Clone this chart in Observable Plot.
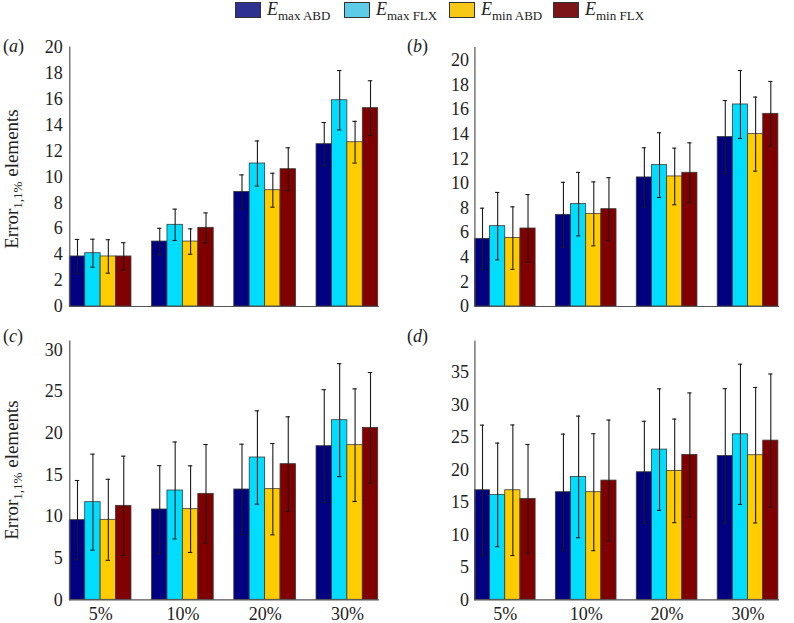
<!DOCTYPE html>
<html>
<head>
<meta charset="utf-8">
<script src="https://cdn.jsdelivr.net/npm/d3@7"></script>
<script src="https://cdn.jsdelivr.net/npm/@observablehq/plot@0.6"></script>
<style>
  body { margin: 0; background: #fff; }
  #root { position: relative; width: 794px; height: 623px; overflow: hidden; background: #fff;
          font-family: "Liberation Serif", "DejaVu Serif", serif; color: #222; }
  .panel { position: absolute; }
  .panel text { font-family: "Liberation Serif", serif; }
  .plabel { position: absolute; font-size: 18px; line-height: 18px; }
  .ylabel { position: absolute; font-size: 19px; line-height: 20px; white-space: nowrap;
            transform: translate(-50%, -50%) rotate(-90deg); }
  .ylabel sub { font-size: 13px; vertical-align: -4px; line-height: 0; }
  .leg { position: absolute; top: 0; display: flex; align-items: flex-start; }
  .sw { width: 24px; height: 14px; border: 1px solid #333; margin-top: 2px; }
  .lt { margin-left: 6px; font-size: 18px; line-height: 18px; white-space: nowrap; }
  .lt i { font-style: italic; }
  .lt sub { font-size: 13px; vertical-align: -5px; line-height: 0; }
</style>
</head>
<body>
<div id="root"></div>
<script>
// ---- data ----
const groups = ["5%", "10%", "20%", "30%"];
const series = ["Emax ABD", "Emax FLX", "Emin ABD", "Emin FLX"];
const colors = ["#000080", "#00DDFF", "#FFCC00", "#800000"];
const legendColors = ["#2E3192", "#5CCCE8", "#F7C815", "#7B1518"];

// means per group (rows) and series (columns)
const meanA = [[3.86, 4.11, 3.86, 3.86], [5.01, 6.30, 5.01, 6.07], [8.84, 11.03, 8.97, 10.59], [12.52, 15.91, 12.67, 15.30]];
const errA  = [[1.31, 1.08, 1.29, 1.06], [1.02, 1.21, 0.98, 1.15], [1.31, 1.74, 1.31, 1.65], [1.67, 2.29, 1.61, 2.11]];
const meanB = [[5.50, 6.53, 5.56, 6.34], [7.45, 8.32, 7.53, 7.91], [10.49, 11.49, 10.57, 10.87], [13.77, 16.42, 14.01, 15.66]];
const errB  = [[2.49, 2.74, 2.54, 2.76], [2.64, 2.58, 2.60, 2.56], [2.41, 2.63, 2.30, 2.43], [2.97, 2.76, 3.01, 2.63]];
const meanC = [[9.56, 11.72, 9.60, 11.28], [10.84, 13.12, 10.88, 12.72], [13.24, 17.08, 13.28, 16.28], [18.44, 21.56, 18.56, 20.64]];
const errC  = [[4.76, 5.76, 4.86, 5.96], [5.26, 5.82, 5.20, 5.92], [5.44, 5.60, 5.48, 5.68], [6.78, 6.78, 6.76, 6.64]];
const meanD = [[16.86, 16.15, 16.86, 15.53], [16.56, 18.91, 16.56, 18.35], [19.63, 23.12, 19.84, 22.30], [22.14, 25.47, 22.25, 24.50]];
const errD  = [[10.02, 7.97, 10.05, 8.38], [8.94, 9.36, 9.00, 9.31], [7.84, 9.35, 7.97, 9.54], [10.36, 10.79, 10.43, 10.25]];

const ticksA = [0, 2, 4, 6, 8, 10, 12, 14, 16, 18, 20];
const ticksB = [0, 2, 4, 6, 8, 10, 12, 14, 16, 18, 20];
const ticksC = [0, 5, 10, 15, 20, 25, 30];
const ticksD = [0, 5, 10, 15, 20, 25, 30, 35];

function rows(mean, err) {
  const out = [];
  groups.forEach((g, gi) => series.forEach((s, si) => out.push({g, s, v: mean[gi][si], e: err[gi][si]})));
  return out;
}

const root = document.getElementById("root");
const FONT = "Liberation Serif";

function panel({mean, err, ticks, ymax, left, top, width, height, mt, mb, ml, mr, tickPad, showX, label, lx, ly}) {
  const data = rows(mean, err);
  const marks = [
    Plot.barY(data, {fx: "g", x: "s", y: "v", fill: "s", stroke: "#3a3a3a", strokeWidth: 0.8}),
    Plot.ruleX(data, {fx: "g", x: "s", y1: d => d.v - d.e, y2: d => d.v + d.e, stroke: "#1a1a1a", strokeWidth: 1.1}),
    Plot.tickY(data, {fx: "g", x: "s", y: d => d.v + d.e, stroke: "#1a1a1a", strokeWidth: 1.1, insetLeft: 5.5, insetRight: 5.5}),
    Plot.tickY(data, {fx: "g", x: "s", y: d => d.v - d.e, stroke: "#1a1a1a", strokeWidth: 1.1, insetLeft: 5.5, insetRight: 5.5}),
    Plot.frame({anchor: "left", facet: "super", stroke: "#555", strokeWidth: 1.2}),
    Plot.frame({anchor: "bottom", facet: "super", stroke: "#555", strokeWidth: 1.2}),
    Plot.axisY({ticks, tickSize: 0, tickPadding: tickPad, label: null, fontSize: 18, fontFamily: FONT, fill: "#222"}),
    Plot.axisX({ticks: [], label: null, tickSize: 0})
  ];
  if (showX) marks.push(Plot.axisFx({anchor: "bottom", tickSize: 0, tickPadding: 7, label: null, fontSize: 18, fontFamily: FONT, fill: "#222"}));
  else marks.push(Plot.axisFx({ticks: [], label: null, tickSize: 0}));
  const chart = Plot.plot({
    width, height,
    marginTop: mt, marginBottom: mb, marginLeft: ml, marginRight: mr,
    style: {fontFamily: FONT, fontSize: "18px", background: "transparent", overflow: "visible"},
    fx: {domain: groups, paddingInner: 0.25, paddingOuter: 0.125, round: false, label: null},
    x: {domain: series, padding: 0, round: false, label: null},
    y: {domain: [0, ymax], label: null},
    color: {domain: series, range: colors},
    marks
  });
  chart.classList.add("panel");
  chart.style.left = left + "px";
  chart.style.top = top + "px";
  root.appendChild(chart);
  const pl = document.createElement("div");
  pl.className = "plabel";
  pl.innerHTML = "(<i>" + label + "</i>)";
  pl.style.left = lx + "px";
  pl.style.top = ly + "px";
  root.appendChild(pl);
}

panel({mean: meanA, err: errA, ticks: ticksA, ymax: 20, left: 0, top: 40, width: 390, height: 270,
       mt: 6.7, mb: 4, ml: 59, mr: 2, tickPad: 7, showX: false, label: "a", lx: 3, ly: 37});
panel({mean: meanB, err: errB, ticks: ticksB, ymax: 21.05, left: 400, top: 40, width: 394, height: 270,
       mt: 7, mb: 4, ml: 64.3, mr: 6, tickPad: 6, showX: false, label: "b", lx: 407, ly: 37});
panel({mean: meanC, err: errC, ticks: ticksC, ymax: 31.04, left: 0, top: 330, width: 390, height: 293,
       mt: 10.7, mb: 23.7, ml: 59, mr: 2, tickPad: 7, showX: true, label: "c", lx: 3, ly: 327});
panel({mean: meanD, err: errD, ticks: ticksD, ymax: 39.8, left: 400, top: 330, width: 394, height: 293,
       mt: 10.7, mb: 23.7, ml: 64.3, mr: 6, tickPad: 6, showX: true, label: "d", lx: 407, ly: 327});

// y-axis titles
[[12, 179], [12, 470]].forEach(([x, y]) => {
  const t = document.createElement("div");
  t.className = "ylabel";
  t.innerHTML = "Error<sub>1,1%</sub> elements";
  t.style.left = x + "px";
  t.style.top = y + "px";
  root.appendChild(t);
});

// legend
const legX = [235, 344, 449, 553];
const legSub = ["max ABD", "max FLX", "min ABD", "min FLX"];
series.forEach((s, i) => {
  const item = document.createElement("div");
  item.className = "leg";
  item.style.left = legX[i] + "px";
  item.innerHTML = `<div class="sw" style="background:${legendColors[i]}"></div><div class="lt"><i>E</i><sub>${legSub[i]}</sub></div>`;
  root.appendChild(item);
});
</script>
</body>
</html>
